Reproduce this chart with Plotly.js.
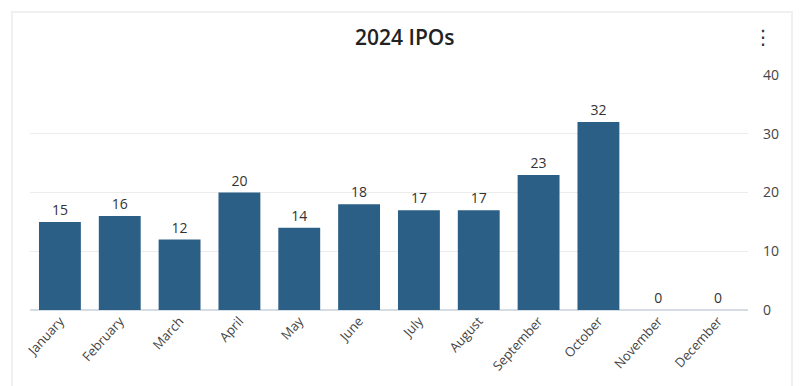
<!DOCTYPE html>
<html>
<head>
<meta charset="utf-8">
<script src="https://cdn.plot.ly/plotly-3.0.1.min.js"></script>
<style>
  html, body { margin: 0; padding: 0; background: #ffffff; }
  #card { position: absolute; left: 11px; top: 11px; width: 782px; height: 390px; border: 2px solid #f0f0f0; box-sizing: border-box; }
  #chart { position: absolute; left: 0; top: 0; width: 800px; height: 386px; }
</style>
</head>
<body>
<div id="card"></div>
<div id="chart"></div>
<script>
const months = ["January","February","March","April","May","June","July","August","September","October","November","December"];
const ipoCounts = [15, 16, 12, 20, 14, 18, 17, 17, 23, 32, 0, 0];
const yTicks = [0, 10, 20, 30, 40];
const chartTitle = "2024 IPOs";

const fontFamily = '"Segoe UI", "Open Sans", "Noto Sans", sans-serif';

const trace = {
  type: 'bar',
  x: months,
  y: ipoCounts,
  marker: { color: '#2b5f86' },
  text: ipoCounts.map(String),
  textposition: 'outside',
  textfont: { size: 14, color: '#333333', family: fontFamily },
  cliponaxis: false,
  hoverinfo: 'x+y'
};

const layout = {
  width: 800,
  height: 386,
  paper_bgcolor: 'rgba(0,0,0,0)',
  plot_bgcolor: 'rgba(0,0,0,0)',
  margin: { l: 30, r: 52, t: 75, b: 76 },
  bargap: 0.3,
  showlegend: false,
  font: { family: fontFamily, color: '#444444' },
  title: {
    text: chartTitle,
    x: 0.506, xref: 'container', xanchor: 'center',
    y: 40, yref: 'container', yanchor: 'middle',
    font: { size: 21, color: '#222222', family: fontFamily, weight: 600 }
  },
  xaxis: {
    type: 'category',
    tickangle: -48,
    tickfont: { size: 13, color: '#444444' },
    showgrid: false,
    showline: false,
    ticks: '',
    zeroline: false
  },
  yaxis: {
    side: 'right',
    range: [0, 40],
    tickvals: yTicks,
    ticktext: yTicks.map(String),
    tickfont: { size: 14, color: '#444444' },
    gridcolor: '#ececec',
    gridwidth: 1,
    zeroline: true,
    zerolinecolor: '#d5dce4',
    zerolinewidth: 1.5,
    showline: false,
    ticks: '',
    ticklabelstandoff: 14
  },
  annotations: [{
    text: '⋮',
    xref: 'paper', yref: 'paper',
    x: 1.021, y: 1.16,
    xanchor: 'center', yanchor: 'middle',
    showarrow: false,
    font: { size: 20, color: '#333333', family: 'DejaVu Sans' }
  }]
};

Plotly.newPlot('chart', [trace], layout, { displayModeBar: false, staticPlot: false });
</script>
</body>
</html>
